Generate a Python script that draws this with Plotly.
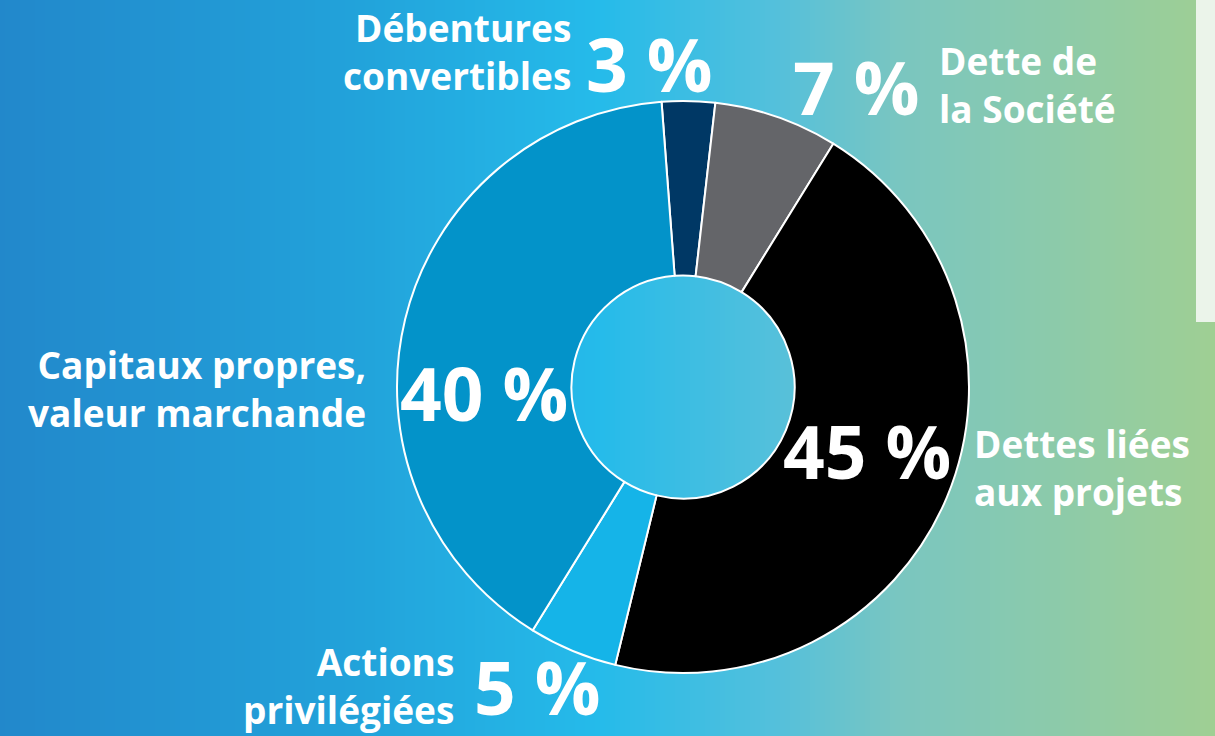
import plotly.graph_objects as go

# ---- data ----
categories = ["Débentures convertibles", "Dette de la Société", "Dettes liées aux projets",
              "Actions privilégiées", "Capitaux propres, valeur marchande"]
label_lines = [["Débentures", "convertibles"], ["Dette de", "la Société"], ["Dettes liées", "aux projets"],
               ["Actions", "privilégiées"], ["Capitaux propres,", "valeur marchande"]]
values = [3, 7, 45, 5, 40]
colors = ["#003865", "#646569", "#000000", "#15b4e8", "#0393c9"]

W, H = 1215, 736

def px(x):
    return x / W

def py(y):
    return 1 - y / H

fig = go.Figure()

# ---- gradient background (styling) ----
stops = [(0, (0x22, 0x88, 0xcb)), (350, (0x22, 0xa2, 0xda)), (600, (0x25, 0xbb, 0xea)),
         (780, (0x55, 0xc0, 0xdb)), (900, (0x7a, 0xc6, 0xc0)), (1215, (0x9f, 0xcf, 0x93))]

def col_at(x):
    for (x0, c0), (x1, c1) in zip(stops[:-1], stops[1:]):
        if x0 <= x <= x1:
            t = (x - x0) / (x1 - x0)
            return "rgb(%d,%d,%d)" % tuple(round(a + (b - a) * t) for a, b in zip(c0, c1))
    return "rgb(%d,%d,%d)" % stops[-1][1]

shapes = []
step = 5
for x in range(0, W, step):
    shapes.append(dict(type="rect", xref="paper", yref="paper", x0=px(x), x1=px(x + step + 1),
                       y0=0, y1=1, fillcolor=col_at(x + step / 2), line=dict(width=0), layer="below"))
shapes.append(dict(type="rect", xref="paper", yref="paper", x0=px(1196), x1=1.01,
                   y0=py(322), y1=1.01, fillcolor="#ebf4ea", line=dict(width=0), layer="below"))

fig.add_trace(go.Pie(
    labels=categories, values=values, hole=0.39, sort=False, direction="clockwise",
    rotation=-4.3, marker=dict(colors=colors, line=dict(color="white", width=2)),
    textinfo="none", hoverinfo="label+percent", showlegend=False,
    domain=dict(x=[px(397), px(969)], y=[py(673), py(101)]),
))

font_lbl = dict(family="Open Sans", size=37, color="white")
font_pct = dict(family="Open Sans", size=73, color="white")

# label block positions (styling) in pixels: (x, y centre, anchor)
lbl_pos = [(573, 52, "right"), (937, 85, "left"), (972, 467, "left"), (456, 685, "right"), (368, 388, "right")]
pct_pos = [(649, 63), (856, 86), (867, 450), (537, 686), (484, 392)]

ann = []
for i, v in enumerate(values):
    x, y, a = lbl_pos[i]
    ann.append(dict(x=px(x), y=py(y), xref="paper", yref="paper",
                    text="<b>%s</b>" % "<br>".join(label_lines[i]), showarrow=False,
                    xanchor=a, yanchor="middle", align=a, font=font_lbl))
    cx, cy = pct_pos[i]
    ann.append(dict(x=px(cx), y=py(cy), xref="paper", yref="paper", text="<b>%d %%</b>" % v,
                    showarrow=False, xanchor="center", yanchor="middle", font=font_pct))

fig.update_layout(width=W, height=H, margin=dict(l=0, r=0, t=0, b=0),
                  paper_bgcolor="#22a2da", plot_bgcolor="rgba(0,0,0,0)",
                  shapes=shapes, annotations=ann)

fig.write_html("out.html", config={"displayModeBar": False})
